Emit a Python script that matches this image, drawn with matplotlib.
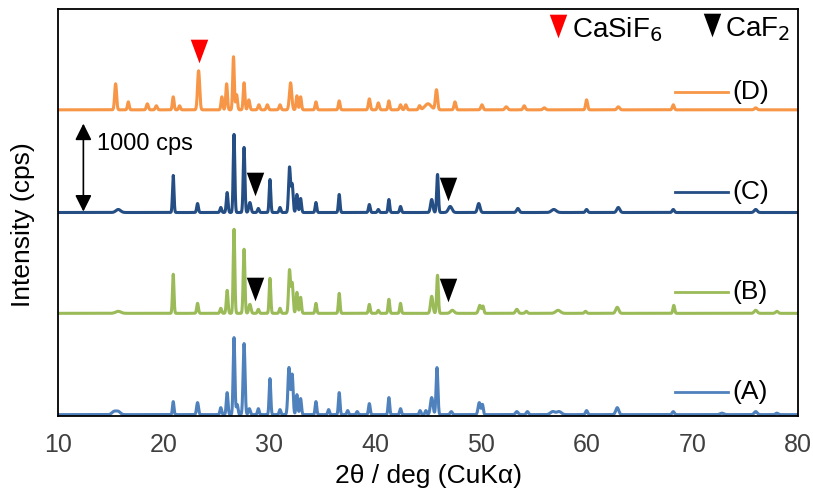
import numpy as np
import matplotlib
matplotlib.use("Agg")
import matplotlib.pyplot as plt
from matplotlib.path import Path

# peak lists: 2theta (deg), height (cps above own baseline), width (sigma, deg)
PEAKS_A = [
    (15.3, 33, 0.2), (15.7, 33, 0.2), (20.9, 142, 0.07), (23.2, 131, 0.09), (25.4, 76, 0.08),
    (26.0, 240, 0.08), (26.65, 840, 0.08), (26.95, 110, 0.08), (27.6, 775, 0.09), (28.1, 65, 0.09),
    (28.95, 65, 0.08), (30.05, 393, 0.075), (31.0, 55, 0.08), (31.85, 513, 0.1), (32.15, 437, 0.09),
    (32.6, 218, 0.08), (32.95, 175, 0.08), (34.4, 142, 0.075), (35.6, 55, 0.08), (36.6, 240, 0.075),
    (37.4, 44, 0.08), (38.3, 33, 0.08), (39.45, 120, 0.08), (41.3, 186, 0.075), (42.4, 65, 0.08),
    (44.25, 44, 0.08), (44.8, 44, 0.08), (45.35, 186, 0.12), (45.85, 513, 0.085), (47.2, 33, 0.1),
    (49.85, 131, 0.11), (50.15, 109, 0.08), (53.4, 33, 0.12), (54.4, 33, 0.1), (56.8, 33, 0.22),
    (57.4, 33, 0.22), (60.0, 44, 0.1), (62.9, 76, 0.14), (68.2, 33, 0.1), (72.8, 16, 0.17),
    (76.0, 33, 0.14), (78.0, 16, 0.12),
]
PEAKS_B = [
    (15.7, 22, 0.25), (20.9, 426, 0.07), (23.2, 109, 0.08), (25.4, 55, 0.08), (26.0, 251, 0.08),
    (26.65, 917, 0.075), (27.6, 699, 0.08), (28.15, 98, 0.1), (28.95, 44, 0.08), (30.05, 382, 0.075),
    (31.0, 55, 0.08), (31.9, 470, 0.09), (32.15, 328, 0.09), (32.6, 229, 0.08), (32.95, 175, 0.08),
    (34.4, 109, 0.075), (36.6, 218, 0.075), (39.45, 98, 0.08), (40.3, 33, 0.08), (41.3, 153, 0.075),
    (42.4, 109, 0.075), (45.35, 186, 0.11), (45.9, 415, 0.08), (47.3, 33, 0.17), (49.9, 87, 0.12),
    (50.2, 76, 0.08), (53.4, 44, 0.12), (54.3, 22, 0.1), (57.3, 33, 0.22), (59.9, 22, 0.1),
    (62.9, 66, 0.14), (68.25, 87, 0.08), (76.0, 33, 0.14), (78.0, 22, 0.12),
]
PEAKS_C = [
    (15.7, 33, 0.22), (20.9, 404, 0.07), (23.2, 98, 0.08), (25.4, 55, 0.08), (26.0, 218, 0.08),
    (26.65, 852, 0.075), (27.6, 710, 0.08), (28.15, 109, 0.1), (28.95, 44, 0.08), (30.05, 360, 0.075),
    (31.0, 55, 0.08), (31.9, 491, 0.09), (32.15, 306, 0.09), (32.6, 197, 0.08), (32.95, 153, 0.08),
    (34.4, 109, 0.075), (36.6, 197, 0.075), (39.45, 87, 0.08), (40.3, 33, 0.08), (41.3, 142, 0.075),
    (42.4, 66, 0.08), (45.35, 142, 0.11), (45.9, 415, 0.08), (47.1, 66, 0.17), (49.8, 98, 0.12),
    (53.5, 44, 0.12), (56.9, 33, 0.22), (60.0, 33, 0.1), (63.0, 55, 0.14), (68.2, 33, 0.1),
    (76.0, 33, 0.14),
]
PEAKS_D = [
    (15.45, 284, 0.09), (16.65, 87, 0.08), (18.45, 66, 0.09), (19.3, 44, 0.09), (20.9, 142, 0.08),
    (21.5, 44, 0.08), (23.3, 426, 0.1), (25.5, 142, 0.08), (25.95, 284, 0.08), (26.6, 579, 0.075),
    (26.9, 164, 0.08), (27.6, 295, 0.08), (28.05, 109, 0.09), (29.0, 55, 0.09), (29.8, 55, 0.09),
    (31.0, 55, 0.09), (32.0, 295, 0.11), (32.6, 153, 0.08), (32.95, 142, 0.08), (34.4, 87, 0.08),
    (36.6, 98, 0.08), (39.45, 120, 0.09), (40.3, 76, 0.09), (41.3, 98, 0.08), (42.4, 55, 0.09),
    (42.9, 55, 0.09), (44.2, 44, 0.09), (45.0, 66, 0.3), (45.8, 218, 0.1), (47.55, 87, 0.09),
    (50.1, 55, 0.1), (52.4, 33, 0.12), (54.1, 44, 0.1), (56.0, 22, 0.12), (60.0, 109, 0.09),
    (63.0, 33, 0.12), (68.2, 55, 0.09), (76.0, 22, 0.12),
]

LABELS = ["(A)", "(B)", "(C)", "(D)"]
OFFSETS = [15, 1120, 2220, 3340]
COLORS = ["#4F81BD", "#9BBB59", "#254E84", "#F79646"]
KEY_Y = [265, 1357, 2449, 3537]

# phase markers (2theta, cps)
CASIF6_MARKS = [(23.3, 3980)]
CAF2_MARKS = [(28.64, 2535), (46.87, 2480), (28.64, 1390), (46.87, 1370)]

two_theta = np.linspace(10, 80, 7001)


def pattern(peaks, offset):
    y = np.full_like(two_theta, float(offset))
    for pos, h, w in peaks:
        y += h * np.exp(-0.5 * ((two_theta - pos) / w) ** 2)
    return y


tri_down = Path([(-0.37, 0.5), (0.37, 0.5), (0.0, -0.5), (-0.37, 0.5)],
                [Path.MOVETO, Path.LINETO, Path.LINETO, Path.CLOSEPOLY])
TRI_MS = 17

fig = plt.figure(figsize=(8.13, 4.97), dpi=100)
ax = fig.add_axes([58 / 813, 1 - 416 / 497, 740 / 813, 407 / 497])

for peaks, off, col, lab, ky in zip([PEAKS_A, PEAKS_B, PEAKS_C, PEAKS_D], OFFSETS, COLORS, LABELS, KEY_Y):
    ax.plot(two_theta, pattern(peaks, off), color=col, lw=2.2, solid_joinstyle="round")
    ax.plot([68.4, 73.4], [ky, ky], color=col, lw=2.0)
    ax.text(73.75, ky, lab, fontsize=19, family="Liberation Sans", va="center", ha="left")

for x, y in CASIF6_MARKS:
    ax.plot(x, y, marker=tri_down, ms=TRI_MS, color="red", mec="none")
for x, y in CAF2_MARKS:
    ax.plot(x, y, marker=tri_down, ms=TRI_MS, color="black", mec="none")

# header key
ax.plot(57.3, 4250, marker=tri_down, ms=TRI_MS, color="red", mec="none", clip_on=False)
ax.text(58.6, 4220, "CaSiF$_6$", fontsize=20, family="Liberation Sans", va="center", ha="left")
ax.plot(71.9, 4260, marker=tri_down, ms=TRI_MS, color="black", mec="none", clip_on=False)
ax.text(73.1, 4220, "CaF$_2$", fontsize=20, family="Liberation Sans", va="center", ha="left")

# scale bar
ax.annotate("", xy=(12.4, 3190), xytext=(12.4, 2230),
            arrowprops=dict(arrowstyle="<|-|>,head_length=1.0,head_width=0.5", color="black",
                            lw=1.2, shrinkA=0, shrinkB=0))
ax.text(13.7, 2970, "1000 cps", fontsize=17, family="Liberation Sans", va="center", ha="left")

ax.set_xlim(10, 80)
ax.set_ylim(0, 4440)
ax.set_xticks(np.arange(10, 81, 10))
ax.set_yticks([])
ax.tick_params(axis="x", length=0, pad=12, labelsize=18, labelcolor="#404040")
for lbl in ax.get_xticklabels():
    lbl.set_family("Liberation Sans")
for s in ax.spines.values():
    s.set_linewidth(1.3)
    s.set_color("black")

ax.set_xlabel("2θ / deg (CuKα)", fontsize=19, family="Liberation Sans", labelpad=5)
ax.set_ylabel("Intensity (cps)", fontsize=19, family="Liberation Sans")
ax.yaxis.set_label_coords(-0.031, 0.47)

fig.savefig("out.png", dpi=100)
